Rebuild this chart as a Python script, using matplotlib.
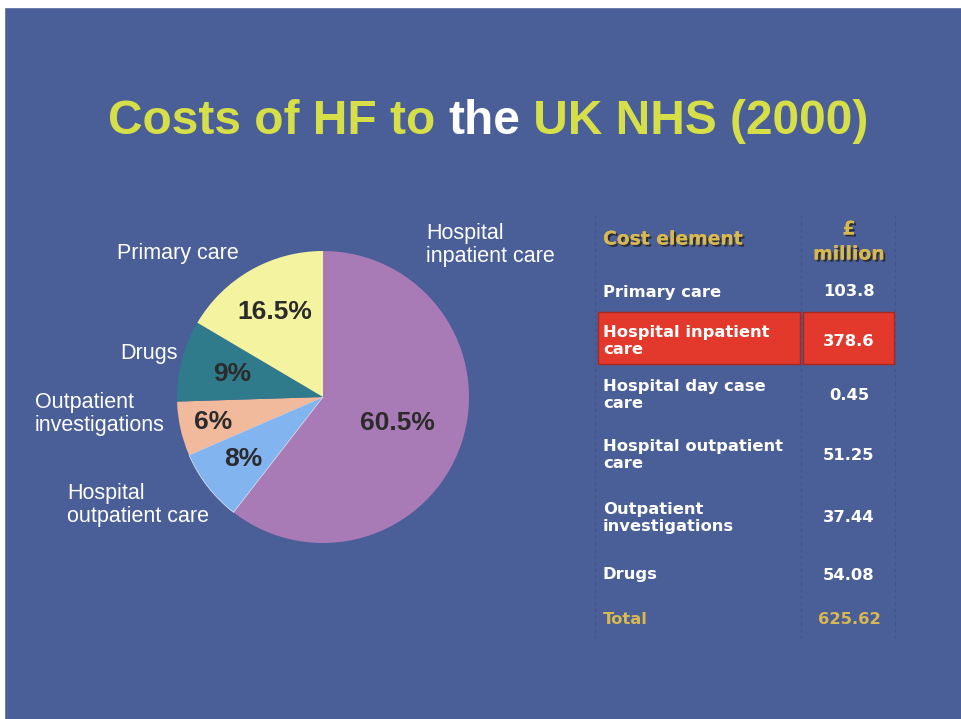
import matplotlib
matplotlib.use("Agg")
import matplotlib.pyplot as plt
import matplotlib.patheffects as pe
from matplotlib.patches import Rectangle
import numpy as np

# pie data (clockwise from 12 o'clock)
slice_labels = ["Hospital\ninpatient care", "Hospital\noutpatient care",
                "Outpatient\ninvestigations", "Drugs", "Primary care"]
slice_pct = [60.5, 8, 6, 9, 16.5]
slice_colors = ["#A87AB6", "#82B4F0", "#F2BA9C", "#2F7B8C", "#F4F4A0"]

# table data
cost_elements = ["Primary care", "Hospital inpatient\ncare", "Hospital day case\ncare",
                 "Hospital outpatient\ncare", "Outpatient\ninvestigations", "Drugs"]
cost_millions = ["103.8", "378.6", "0.45", "51.25", "37.44", "54.08"]
total_label = "Total"
total_value = "625.62"

BG = "#4A5E98"
GOLD = "#D8B850"
TITLE_YELLOW = "#D6DE48"

W, H = 961, 719
fig = plt.figure(figsize=(W / 100, H / 100), dpi=100, facecolor=BG)

ov = fig.add_axes([0, 0, 1, 1])
ov.set_xlim(0, W)
ov.set_ylim(H, 0)
ov.axis("off")
ov.add_patch(Rectangle((0, 0), W, 7, color="white", zorder=5))
ov.add_patch(Rectangle((0, 0), 4, H, color="white", zorder=5))

# title in three colour pieces
tfont = dict(fontsize=34.5, fontweight="bold", family="Liberation Sans")
t1 = ov.text(108, 144, "Costs of HF to ", color=TITLE_YELLOW, va="bottom", ha="left", **tfont)
t2 = ov.annotate("the", xy=(1, 0), xycoords=t1, va="bottom", ha="left", color="white", **tfont)
t3 = ov.annotate(" UK NHS (2000)", xy=(1, 0), xycoords=t2, va="bottom", ha="left",
                 color=TITLE_YELLOW, **tfont)

# pie
cx, cy, r = 323, 397, 146
pax = fig.add_axes([(cx - r) / W, (H - cy - r) / H, 2 * r / W, 2 * r / H])
wedges, _ = pax.pie(slice_pct, colors=slice_colors, startangle=90, counterclock=False,
                    radius=1, wedgeprops=dict(linewidth=0))
# thin light seam between the two small lower wedges
wedges[1].set_edgecolor("#E8E8F0")
wedges[1].set_linewidth(0.5)
pax.set_xlim(-1, 1)
pax.set_ylim(-1, 1)
pax.set_aspect("equal")
pax.axis("off")

pct_dist = [0.54, 0.69, 0.77, 0.64, 0.67]
for w, p, d in zip(wedges, slice_pct, pct_dist):
    ang = np.deg2rad((w.theta1 + w.theta2) / 2)
    pax.text(d * np.cos(ang), d * np.sin(ang), f"{p:g}%", ha="center", va="center",
             fontsize=19, fontweight="bold", color="#2B2B2B", family="Liberation Sans")

# outer labels
lfont = dict(fontsize=15.5, color="white", family="Liberation Sans", linespacing=1.1)
ov.text(426, 245, slice_labels[0], ha="left", va="center", **lfont)
ov.text(67, 505, slice_labels[1], ha="left", va="center", **lfont)
ov.text(35, 414, slice_labels[2], ha="left", va="center", **lfont)
ov.text(178, 354, slice_labels[3], ha="right", va="center", **lfont)
ov.text(178, 253, slice_labels[4], ha="center", va="center", **lfont)

# table
shadow = [pe.withSimplePatchShadow(offset=(1.5, -1.5), shadow_rgbFace="#222222", alpha=0.8),
          pe.Normal()]
hfont = dict(fontsize=13.5, fontweight="bold", color=GOLD, family="DejaVu Sans")
ov.text(603, 239, "Cost element", ha="left", va="center", path_effects=shadow, **hfont)
ov.text(849, 229, "£", ha="center", va="center", path_effects=shadow, **hfont)
ov.text(849, 254, "million", ha="center", va="center", path_effects=shadow, **hfont)

row_y = [292, 341, 395, 455, 518, 575]
cfont = dict(fontsize=11.8, fontweight="bold", color="white", family="DejaVu Sans",
             linespacing=1.15)
for i, (name, val, y) in enumerate(zip(cost_elements, cost_millions, row_y)):
    if i == 1:
        ov.add_patch(Rectangle((598, 312), 202, 52, facecolor="#E2392C",
                               edgecolor="#A8281E", lw=1, zorder=1))
        ov.add_patch(Rectangle((803, 312), 91, 52, facecolor="#E2392C",
                               edgecolor="#A8281E", lw=1, zorder=1))
    ov.text(603, y, name, ha="left", va="center", zorder=3, **cfont)
    ov.text(849, y, val, ha="center", va="center", zorder=3, **cfont)

tf = dict(cfont, color=GOLD)
ov.text(603, 620, total_label, ha="left", va="center", **tf)
ov.text(849, 620, total_value, ha="center", va="center", **tf)

for x in (595, 801, 895):
    ov.plot([x, x], [215, 640], color="#42548A", lw=0.8, ls=(0, (3, 3)), zorder=0)

fig.savefig("out.png", dpi=100, facecolor=BG)
